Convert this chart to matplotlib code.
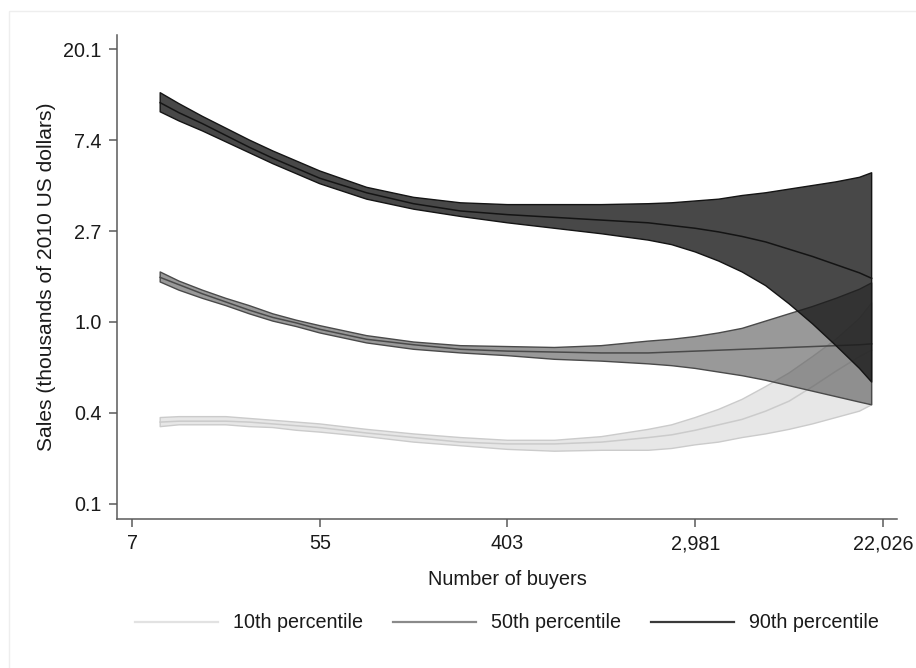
import numpy as np
import matplotlib
matplotlib.use("Agg")
import matplotlib.pyplot as plt
from matplotlib.lines import Line2D
from matplotlib.patches import Rectangle

plt.rcParams["font.family"] = ["Liberation Sans", "DejaVu Sans"]

# log number of buyers at which the fitted curves are evaluated
ln_buyers = [2.3, 2.5, 2.75, 3.0, 3.25, 3.5, 3.75, 4.0, 4.5, 5.0, 5.5, 6.0, 6.5, 7.0,
             7.5, 7.75, 8.0, 8.25, 8.5, 8.75, 9.0, 9.25, 9.5, 9.75, 9.88]

# log sales (thousands of 2010 US$): fit and 95% band per percentile
p10_fit = [-1.10, -1.09, -1.09, -1.09, -1.10, -1.12, -1.14, -1.16, -1.22, -1.27, -1.32, -1.34, -1.34, -1.32,
           -1.27, -1.24, -1.19, -1.13, -1.07, -0.98, -0.87, -0.71, -0.54, -0.38, -0.31]
p10_hi = [-1.05, -1.04, -1.04, -1.04, -1.06, -1.08, -1.10, -1.12, -1.18, -1.23, -1.27, -1.30, -1.30, -1.26,
          -1.18, -1.13, -1.05, -0.96, -0.85, -0.71, -0.56, -0.38, -0.19, 0.04, 0.21]
p10_lo = [-1.15, -1.13, -1.13, -1.13, -1.15, -1.16, -1.19, -1.21, -1.26, -1.32, -1.36, -1.40, -1.42, -1.41,
          -1.41, -1.39, -1.35, -1.32, -1.27, -1.23, -1.18, -1.12, -1.05, -0.98, -0.91]

p50_fit = [0.49, 0.41, 0.31, 0.22, 0.13, 0.05, -0.01, -0.08, -0.19, -0.25, -0.30, -0.32, -0.33, -0.34,
           -0.34, -0.33, -0.32, -0.31, -0.30, -0.29, -0.28, -0.27, -0.26, -0.25, -0.24]
p50_hi = [0.55, 0.45, 0.35, 0.26, 0.18, 0.09, 0.02, -0.04, -0.15, -0.22, -0.26, -0.27, -0.28, -0.26,
          -0.21, -0.19, -0.16, -0.12, -0.07, 0.01, 0.09, 0.17, 0.26, 0.36, 0.43]
p50_lo = [0.44, 0.35, 0.26, 0.18, 0.09, 0.01, -0.05, -0.12, -0.23, -0.30, -0.34, -0.37, -0.41, -0.43,
          -0.46, -0.48, -0.51, -0.55, -0.59, -0.64, -0.70, -0.76, -0.82, -0.88, -0.91]

p90_fit = [2.41, 2.30, 2.18, 2.05, 1.92, 1.80, 1.69, 1.58, 1.42, 1.30, 1.22, 1.18, 1.15, 1.12,
           1.09, 1.06, 1.03, 0.99, 0.94, 0.88, 0.80, 0.72, 0.63, 0.54, 0.48]
p90_hi = [2.52, 2.40, 2.26, 2.13, 2.00, 1.88, 1.77, 1.66, 1.48, 1.37, 1.31, 1.29, 1.29, 1.29,
          1.30, 1.31, 1.33, 1.35, 1.39, 1.42, 1.46, 1.50, 1.54, 1.59, 1.64]
p90_lo = [2.31, 2.21, 2.10, 1.98, 1.86, 1.74, 1.63, 1.52, 1.35, 1.24, 1.16, 1.09, 1.03, 0.97,
          0.90, 0.85, 0.77, 0.67, 0.55, 0.40, 0.20, -0.02, -0.26, -0.51, -0.66]

series_labels = ["10th percentile", "50th percentile", "90th percentile"]
x_ticks = [2, 4, 6, 8, 10]
y_ticks = [-2, -1, 0, 1, 2, 3]

# fill colour, fill alpha, outline colour, legend colour
styles = [
    ("#c4c4c4", 0.40, "#cbcbcb", "#e2e2e2"),
    ("#555555", 0.60, "#4a4a4a", "#8a8a8a"),
    ("#1a1a1a", 0.80, "#141414", "#3a3a3a"),
]

fig = plt.figure(figsize=(9.16, 6.68), dpi=100)
fig.patches.append(Rectangle((9 / 916, -0.01), 1.0, 1 - 11 / 668 + 0.01,
                             transform=fig.transFigure, fill=False,
                             edgecolor="#eeeeee", lw=1.0))
ax = fig.add_axes([117 / 916, 1 - 519 / 668, 780 / 916, 484 / 668])

x = np.array(ln_buyers)
bands = [(p10_fit, p10_lo, p10_hi), (p50_fit, p50_lo, p50_hi), (p90_fit, p90_lo, p90_hi)]
for k, ((fit, lo, hi), (fc, alpha, ec, _)) in enumerate(zip(bands, styles)):
    z = 2 + 2 * k
    ax.fill_between(x, lo, hi, facecolor=fc, alpha=alpha, lw=0, zorder=z)
    ax.fill_between(x, lo, hi, facecolor="none", edgecolor=ec, lw=1.0, zorder=z + 0.5)
    ax.plot(x, fit, color=ec, lw=1.1, zorder=z + 0.6)

ax.set_xlim(1.84, 10.15)
ax.set_ylim(-2.165, 3.154)

ax.set_xticks(x_ticks)
ax.set_xticklabels([f"{np.exp(v):,.0f}" for v in x_ticks])
ax.set_yticks(y_ticks)
ax.set_yticklabels([f"{np.exp(v):.1f}" for v in y_ticks])

for side in ("top", "right"):
    ax.spines[side].set_visible(False)
for side in ("left", "bottom"):
    ax.spines[side].set_color("#5a5a5a")
    ax.spines[side].set_linewidth(1.1)
ax.tick_params(direction="out", length=6, width=1.1, color="#5a5a5a",
               labelsize=14.2, labelcolor="#1a1a1a", pad=5)

ax.set_xlabel("Number of buyers", fontsize=14.4, color="#1a1a1a")
ax.set_ylabel("Sales (thousands of 2010 US dollars)", fontsize=15.1, color="#1a1a1a")
ax.xaxis.set_label_coords(0.5, -0.105)
ax.yaxis.set_label_coords(-0.078, 0.5)

handles = [Line2D([], [], color=s[3], lw=1.6) for s in styles]
fig.legend(handles, series_labels, loc="center", bbox_to_anchor=(507 / 916, 1 - 623 / 668),
           ncol=3, frameon=False, fontsize=14.2, handlelength=4.2,
           handletextpad=0.75, columnspacing=1.55, labelcolor="#1a1a1a")

fig.savefig("out.png", dpi=100, facecolor="white")
